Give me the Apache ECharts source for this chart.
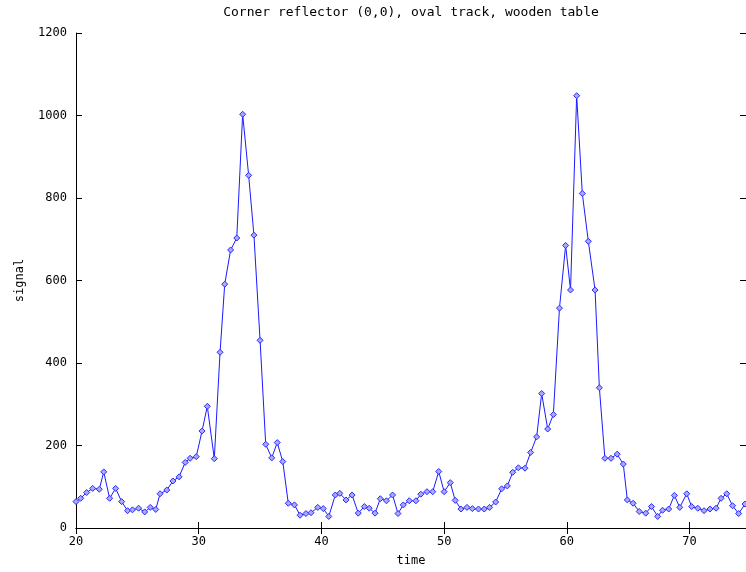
<!DOCTYPE html>
<html>
<head>
<meta charset="utf-8">
<script src="https://cdn.jsdelivr.net/npm/echarts@6/dist/echarts.min.js"></script>
<style>html,body{margin:0;padding:0;background:#fff}#c{width:746px;height:572px}</style>
</head>
<body>
<div id="c"></div>
<script>
var title = 'Corner reflector (0,0), oval track, wooden table';
var xName = 'time';
var yName = 'signal';
var xTicks = [20, 30, 40, 50, 60, 70];
var yTicks = [0, 200, 400, 600, 800, 1000, 1200];
var time = [20.00,20.38,20.87,21.36,21.90,22.26,22.74,23.23,23.72,24.20,24.60,25.10,25.60,26.05,26.50,26.85,27.40,27.90,28.40,28.90,29.30,29.80,30.27,30.70,31.27,31.74,32.12,32.60,33.10,33.58,34.07,34.50,35.00,35.46,35.95,36.40,36.85,37.30,37.80,38.26,38.74,39.15,39.70,40.15,40.60,41.13,41.50,42.00,42.50,43.00,43.50,43.90,44.37,44.80,45.30,45.80,46.24,46.67,47.16,47.70,48.10,48.60,49.07,49.56,50.00,50.50,50.90,51.37,51.86,52.30,52.80,53.27,53.70,54.20,54.69,55.15,55.59,56.05,56.59,57.05,57.54,57.95,58.44,58.90,59.40,59.90,60.30,60.80,61.26,61.75,62.30,62.65,63.10,63.60,64.10,64.60,64.93,65.40,65.90,66.43,66.90,67.40,67.80,68.30,68.76,69.20,69.77,70.17,70.67,71.18,71.67,72.16,72.57,73.03,73.50,74.00,74.52];
var signal = [64,72,86,96,94,136,72,96,64,42,44,48,39,50,45,83,92,114,124,159,169,173,235,295,168,426,591,674,703,1003,855,710,455,203,170,207,161,60,56,31,35,37,50,47,28,80,84,68,80,36,52,48,36,71,66,80,35,56,66,66,82,88,88,137,88,110,67,46,50,47,46,46,50,63,95,102,135,146,145,183,221,326,240,275,533,685,577,1048,811,695,577,340,169,169,179,155,68,60,40,36,52,28,43,46,79,50,83,52,48,42,46,48,72,83,54,35,58];

var data = time.map(function (t, i) { return [t, signal[i]]; });
var font = 'DejaVu Sans Mono';
var xMin = xTicks[0], xMax = 74.6, yMin = yTicks[0], yMax = yTicks[yTicks.length - 1];
function xFmt(v) { return xTicks.indexOf(Math.round(v * 100) / 100) >= 0 ? String(v) : ''; }
function yFmt(v) { return yTicks.indexOf(Math.round(v)) >= 0 ? String(Math.round(v)) : ''; }

var chart = echarts.init(document.getElementById('c'), null, { renderer: 'canvas' });
chart.setOption({
  animation: false,
  backgroundColor: '#fff',
  grid: { left: 76, right: 0, top: 33, bottom: 42, containLabel: false },
  xAxis: [{
    type: 'value', position: 'bottom', min: xMin, max: xMax, interval: 10,
    name: xName, nameLocation: 'middle', nameGap: 27,
    nameTextStyle: { fontFamily: font, fontSize: 12, color: '#000' },
    axisLine: { show: true, lineStyle: { color: '#000', width: 1 } },
    axisTick: { show: true, inside: true, length: 6, lineStyle: { color: '#000' } },
    axisLabel: { fontFamily: font, fontSize: 12, color: '#000', margin: 8, formatter: xFmt, showMaxLabel: false },
    splitLine: { show: false }
  }, {
    type: 'value', position: 'top', min: xMin, max: xMax, interval: 10,
    name: title, nameLocation: 'middle', nameGap: 14,
    nameTextStyle: { fontFamily: font, fontSize: 13, color: '#000' },
    axisLine: { show: true, lineStyle: { color: '#000', width: 1 } },
    axisTick: { show: true, inside: true, length: 6, lineStyle: { color: '#000' } },
    axisLabel: { show: false },
    splitLine: { show: false }
  }],
  yAxis: [{
    type: 'value', position: 'left', min: yMin, max: yMax, interval: 200,
    name: yName, nameLocation: 'middle', nameGap: 50,
    nameTextStyle: { fontFamily: font, fontSize: 12, color: '#000' },
    axisLine: { show: true, lineStyle: { color: '#000', width: 1 } },
    axisTick: { show: true, inside: true, length: 6, lineStyle: { color: '#000' } },
    axisLabel: { fontFamily: font, fontSize: 12, color: '#000', margin: 9, formatter: yFmt },
    splitLine: { show: false }
  }, {
    type: 'value', position: 'right', min: yMin, max: yMax, interval: 200,
    axisLine: { show: false },
    axisTick: { show: true, inside: true, length: 6, lineStyle: { color: '#000' } },
    axisLabel: { show: false },
    splitLine: { show: false }
  }],
  series: [{
    type: 'line', xAxisIndex: 0, yAxisIndex: 0,
    data: data,
    symbol: 'diamond', symbolSize: 6, showAllSymbol: true,
    lineStyle: { color: '#1a1aff', width: 1 },
    itemStyle: { color: '#a8a8ff', borderColor: '#2a2aff', borderWidth: 1 },
    clip: true
  }]
});
</script>
</body>
</html>
